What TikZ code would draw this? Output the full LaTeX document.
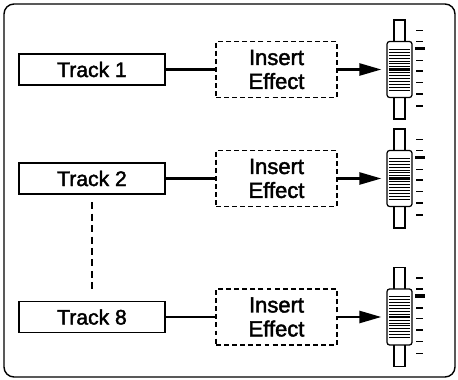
\documentclass[tikz,border=0pt]{standalone}
\usepackage{fontspec}
\setmainfont{Liberation Sans}[FakeBold=2]
\usetikzlibrary{arrows.meta}

\tikzset{
  trackbox/.style={draw,line width=0.9pt,minimum width=2.91cm,
    minimum height=0.62cm,inner sep=0pt,font=\fontsize{12}{14}\selectfont},
  fxbox/.style={draw,line width=0.8pt,dash pattern=on 2.8pt off 1.8pt,
    align=center,minimum width=2.42cm,minimum height=1.12cm,inner sep=0pt,
    font=\fontsize{12.5}{13.6}\selectfont},
  faderslot/.style={draw,line width=0.6pt,minimum width=0.22cm,
    minimum height=1.98cm,inner sep=0pt},
  fadercap/.style={draw,fill=white,rounded corners=1.5pt,line width=0.7pt,
    minimum width=0.5cm,minimum height=1.12cm,inner sep=0pt},
}

\begin{document}
\begin{tikzpicture}[line width=1.4pt,>={Triangle[length=4.4mm,width=2.4mm]}]
    \useasboundingbox (0,0) rectangle (9.16,7.6);
    \draw[line width=0.8pt,rounded corners=0.2cm] (0.08,0.06) rectangle (9.1,7.52);
    \foreach \n/\y in {1/6.21,2/4.03,8/1.26}{
      \node[trackbox] (track\n) at (1.84,\y) {Track \n};
      \node[fxbox] (fx\n) at (5.53,\y) {Insert\\Effect};
      \node[faderslot] (slot\n) at (7.99,\y) {};
      \node[fadercap] (fader\n) at (7.99,\y) {};
      \draw (track\n.east) -- (fx\n.west);
      \draw[->,shorten >=0.1cm] (fx\n.east) -- (fader\n.west);
      % lines on the fader knob
      \foreach \k in {-7,...,7}
        \draw[line width=0.3pt] ([xshift=0.05cm,yshift=\k*0.058cm]fader\n.west)
          -- ([xshift=-0.05cm,yshift=\k*0.058cm]fader\n.east);
      \draw[line width=1.6pt] ([xshift=0.05cm]fader\n.west)
        -- ([xshift=-0.05cm]fader\n.east);
      % scale marks
      \foreach \tk in {0.78,0.56,0.18,-0.03,-0.26,-0.49,-0.73}
        \draw[line width=1pt] ([xshift=0.33cm,yshift=\tk cm]fader\n.center) -- ++(0.14,0);
      \draw[line width=1.9pt] ([xshift=0.31cm,yshift=0.42cm]fader\n.center) -- ++(0.2,0);
    }
    \draw[line width=0.8pt,dash pattern=on 4pt off 2.5pt,shorten <=0.15cm,
      shorten >=0.2cm] (track2.south) -- (track8.north);
  \end{tikzpicture}
\end{document}
